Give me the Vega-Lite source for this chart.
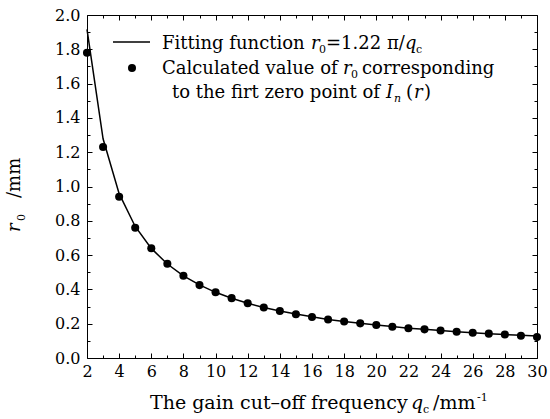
{
  "$schema": "https://vega.github.io/schema/vega-lite/v6.json",
  "width": 450,
  "height": 343,
  "autosize": {"type": "none"},
  "padding": {"left": 87, "top": 15, "right": 13, "bottom": 61},
  "background": "white",
  "config": {
    "view": {"stroke": null},
    "font": "DejaVu Serif",
    "axis": {"domainColor": "black", "tickColor": "black", "labelColor": "black", "labelFont": "DejaVu Serif", "labelFontSize": 16, "grid": false, "title": null, "domainWidth": 1, "tickWidth": 1},
    "text": {"font": "DejaVu Serif", "color": "black", "align": "left", "baseline": "alphabetic", "fontSize": 18}
  },
  "datasets": {
    "curve": [
      {"q": 2, "fit": 1.916, "calc": 1.78},
      {"q": 3, "fit": 1.278, "calc": 1.23},
      {"q": 4, "fit": 0.958, "calc": 0.94},
      {"q": 5, "fit": 0.767, "calc": 0.76},
      {"q": 6, "fit": 0.639, "calc": 0.64},
      {"q": 7, "fit": 0.548, "calc": 0.55},
      {"q": 8, "fit": 0.479, "calc": 0.48},
      {"q": 9, "fit": 0.426, "calc": 0.425},
      {"q": 10, "fit": 0.383, "calc": 0.383},
      {"q": 11, "fit": 0.348, "calc": 0.349},
      {"q": 12, "fit": 0.319, "calc": 0.319},
      {"q": 13, "fit": 0.295, "calc": 0.295},
      {"q": 14, "fit": 0.274, "calc": 0.274},
      {"q": 15, "fit": 0.256, "calc": 0.255},
      {"q": 16, "fit": 0.240, "calc": 0.239},
      {"q": 17, "fit": 0.225, "calc": 0.225},
      {"q": 18, "fit": 0.213, "calc": 0.213},
      {"q": 19, "fit": 0.202, "calc": 0.202},
      {"q": 20, "fit": 0.192, "calc": 0.192},
      {"q": 21, "fit": 0.183, "calc": 0.182},
      {"q": 22, "fit": 0.174, "calc": 0.174},
      {"q": 23, "fit": 0.167, "calc": 0.167},
      {"q": 24, "fit": 0.160, "calc": 0.160},
      {"q": 25, "fit": 0.153, "calc": 0.153},
      {"q": 26, "fit": 0.147, "calc": 0.147},
      {"q": 27, "fit": 0.142, "calc": 0.142},
      {"q": 28, "fit": 0.137, "calc": 0.137},
      {"q": 29, "fit": 0.132, "calc": 0.130},
      {"q": 30, "fit": 0.128, "calc": 0.122}
    ]
  },
  "resolve": {"axis": {"x": "independent", "y": "independent"}},
  "layer": [
    {
      "data": {"name": "curve"},
      "mark": {"type": "line", "color": "black", "strokeWidth": 1.5},
      "encoding": {
        "x": {"field": "q", "type": "quantitative", "scale": {"domain": [2, 30], "nice": false, "zero": false},
              "axis": {"orient": "bottom", "values": [2,4,6,8,10,12,14,16,18,20,22,24,26,28,30], "tickSize": -5, "labelPadding": 10, "labelFlush": false}},
        "y": {"field": "fit", "type": "quantitative", "scale": {"domain": [0, 2], "nice": false, "zero": false},
              "axis": {"orient": "left", "values": [0,0.2,0.4,0.6,0.8,1.0,1.2,1.4,1.6,1.8,2.0], "format": ".1f", "tickSize": -5, "labelPadding": 12, "labelFlush": false}}
      }
    },
    {
      "data": {"name": "curve"},
      "mark": {"type": "point", "filled": true, "color": "black", "opacity": 1, "size": 65},
      "encoding": {
        "x": {"field": "q", "type": "quantitative",
              "axis": {"orient": "bottom", "values": [3,5,7,9,11,13,15,17,19,21,23,25,27,29], "tickSize": -3, "labels": false, "domain": false}},
        "y": {"field": "calc", "type": "quantitative",
              "axis": {"orient": "left", "values": [0.1,0.3,0.5,0.7,0.9,1.1,1.3,1.5,1.7,1.9], "tickSize": -3, "labels": false, "domain": false}}
      }
    },
    {
      "data": {"name": "curve"},
      "mark": {"type": "point", "opacity": 0},
      "encoding": {
        "x": {"field": "q", "type": "quantitative",
              "axis": {"orient": "top", "values": [2,4,6,8,10,12,14,16,18,20,22,24,26,28,30], "tickSize": -5, "labels": false}},
        "y": {"field": "fit", "type": "quantitative",
              "axis": {"orient": "right", "values": [0,0.2,0.4,0.6,0.8,1.0,1.2,1.4,1.6,1.8,2.0], "tickSize": -5, "labels": false}}
      }
    },
    {
      "data": {"name": "curve"},
      "mark": {"type": "point", "opacity": 0},
      "encoding": {
        "x": {"field": "q", "type": "quantitative",
              "axis": {"orient": "top", "values": [3,5,7,9,11,13,15,17,19,21,23,25,27,29], "tickSize": -3, "labels": false, "domain": false}},
        "y": {"field": "calc", "type": "quantitative",
              "axis": {"orient": "right", "values": [0.1,0.3,0.5,0.7,0.9,1.1,1.3,1.5,1.7,1.9], "tickSize": -3, "labels": false, "domain": false}}
      }
    },
    {
      "data": {"values": [{}]},
      "mark": {"type": "rule", "color": "black", "strokeWidth": 1.5},
      "encoding": {
        "x": {"datum": 3.618, "type": "quantitative", "axis": null},
        "x2": {"datum": 5.92},
        "y": {"datum": 1.8426, "type": "quantitative", "axis": null}
      }
    },
    {
      "data": {"values": [{}]},
      "mark": {"type": "point", "filled": true, "color": "black", "opacity": 1, "size": 65},
      "encoding": {
        "x": {"datum": 4.8, "type": "quantitative", "axis": null},
        "y": {"datum": 1.691, "type": "quantitative", "axis": null}
      }
    },
    {"data": {"values": [{}]}, "mark": {"type": "text", "text": "Fitting function"},
     "encoding": {"x": {"datum": 6.667, "type": "quantitative", "axis": null}, "y": {"datum": 1.8017, "type": "quantitative", "axis": null}}},
    {"data": {"values": [{}]}, "mark": {"type": "text", "text": "r", "fontStyle": "italic"},
     "encoding": {"x": {"datum": 15.938, "type": "quantitative", "axis": null}, "y": {"datum": 1.8017, "type": "quantitative", "axis": null}}},
    {"data": {"values": [{}]}, "mark": {"type": "text", "text": "0", "fontSize": 11},
     "encoding": {"x": {"datum": 16.436, "type": "quantitative", "axis": null}, "y": {"datum": 1.7784, "type": "quantitative", "axis": null}}},
    {"data": {"values": [{}]}, "mark": {"type": "text", "text": "=1.22 π/"},
     "encoding": {"x": {"datum": 16.871, "type": "quantitative", "axis": null}, "y": {"datum": 1.8017, "type": "quantitative", "axis": null}}},
    {"data": {"values": [{}]}, "mark": {"type": "text", "text": "q", "fontStyle": "italic"},
     "encoding": {"x": {"datum": 21.787, "type": "quantitative", "axis": null}, "y": {"datum": 1.8017, "type": "quantitative", "axis": null}}},
    {"data": {"values": [{}]}, "mark": {"type": "text", "text": "c", "fontSize": 11},
     "encoding": {"x": {"datum": 22.471, "type": "quantitative", "axis": null}, "y": {"datum": 1.7784, "type": "quantitative", "axis": null}}},
    {"data": {"values": [{}]}, "mark": {"type": "text", "text": "Calculated value of"},
     "encoding": {"x": {"datum": 6.667, "type": "quantitative", "axis": null}, "y": {"datum": 1.656, "type": "quantitative", "axis": null}}},
    {"data": {"values": [{}]}, "mark": {"type": "text", "text": "r", "fontStyle": "italic"},
     "encoding": {"x": {"datum": 17.929, "type": "quantitative", "axis": null}, "y": {"datum": 1.656, "type": "quantitative", "axis": null}}},
    {"data": {"values": [{}]}, "mark": {"type": "text", "text": "0", "fontSize": 11},
     "encoding": {"x": {"datum": 18.427, "type": "quantitative", "axis": null}, "y": {"datum": 1.6327, "type": "quantitative", "axis": null}}},
    {"data": {"values": [{}]}, "mark": {"type": "text", "text": "corresponding"},
     "encoding": {"x": {"datum": 19.111, "type": "quantitative", "axis": null}, "y": {"datum": 1.656, "type": "quantitative", "axis": null}}},
    {"data": {"values": [{}]}, "mark": {"type": "text", "text": "to the firt zero point of"},
     "encoding": {"x": {"datum": 7.289, "type": "quantitative", "axis": null}, "y": {"datum": 1.516, "type": "quantitative", "axis": null}}},
    {"data": {"values": [{}]}, "mark": {"type": "text", "text": "I", "fontStyle": "italic"},
     "encoding": {"x": {"datum": 20.604, "type": "quantitative", "axis": null}, "y": {"datum": 1.516, "type": "quantitative", "axis": null}}},
    {"data": {"values": [{}]}, "mark": {"type": "text", "text": "n", "fontSize": 11, "fontStyle": "italic"},
     "encoding": {"x": {"datum": 21.102, "type": "quantitative", "axis": null}, "y": {"datum": 1.4927, "type": "quantitative", "axis": null}}},
    {"data": {"values": [{}]}, "mark": {"type": "text", "text": "("},
     "encoding": {"x": {"datum": 21.849, "type": "quantitative", "axis": null}, "y": {"datum": 1.516, "type": "quantitative", "axis": null}}},
    {"data": {"values": [{}]}, "mark": {"type": "text", "text": "r", "fontStyle": "italic"},
     "encoding": {"x": {"datum": 22.347, "type": "quantitative", "axis": null}, "y": {"datum": 1.516, "type": "quantitative", "axis": null}}},
    {"data": {"values": [{}]}, "mark": {"type": "text", "text": ")"},
     "encoding": {"x": {"datum": 22.969, "type": "quantitative", "axis": null}, "y": {"datum": 1.516, "type": "quantitative", "axis": null}}},
    {"data": {"values": [{}]}, "mark": {"type": "text", "text": "The gain cut–off frequency", "fontSize": 19},
     "encoding": {"x": {"datum": 5.92, "type": "quantitative", "axis": null}, "y": {"datum": -0.2974, "type": "quantitative", "axis": null}}},
    {"data": {"values": [{}]}, "mark": {"type": "text", "text": "q", "fontSize": 19, "fontStyle": "italic"},
     "encoding": {"x": {"datum": 22.16, "type": "quantitative", "axis": null}, "y": {"datum": -0.2974, "type": "quantitative", "axis": null}}},
    {"data": {"values": [{}]}, "mark": {"type": "text", "text": "c", "fontSize": 11},
     "encoding": {"x": {"datum": 22.907, "type": "quantitative", "axis": null}, "y": {"datum": -0.3207, "type": "quantitative", "axis": null}}},
    {"data": {"values": [{}]}, "mark": {"type": "text", "text": "/mm", "fontSize": 19},
     "encoding": {"x": {"datum": 23.529, "type": "quantitative", "axis": null}, "y": {"datum": -0.2974, "type": "quantitative", "axis": null}}},
    {"data": {"values": [{}]}, "mark": {"type": "text", "text": "-1", "fontSize": 11},
     "encoding": {"x": {"datum": 26.267, "type": "quantitative", "axis": null}, "y": {"datum": -0.2507, "type": "quantitative", "axis": null}}},
    {"data": {"values": [{}]}, "mark": {"type": "text", "text": "r", "angle": 270, "fontStyle": "italic"},
     "encoding": {"x": {"datum": -2.169, "type": "quantitative", "axis": null}, "y": {"datum": 0.7347, "type": "quantitative", "axis": null}}},
    {"data": {"values": [{}]}, "mark": {"type": "text", "text": "0", "angle": 270, "fontSize": 11},
     "encoding": {"x": {"datum": -1.858, "type": "quantitative", "axis": null}, "y": {"datum": 0.7988, "type": "quantitative", "axis": null}}},
    {"data": {"values": [{}]}, "mark": {"type": "text", "text": "/mm", "angle": 270},
     "encoding": {"x": {"datum": -2.169, "type": "quantitative", "axis": null}, "y": {"datum": 0.933, "type": "quantitative", "axis": null}}}
  ]
}
